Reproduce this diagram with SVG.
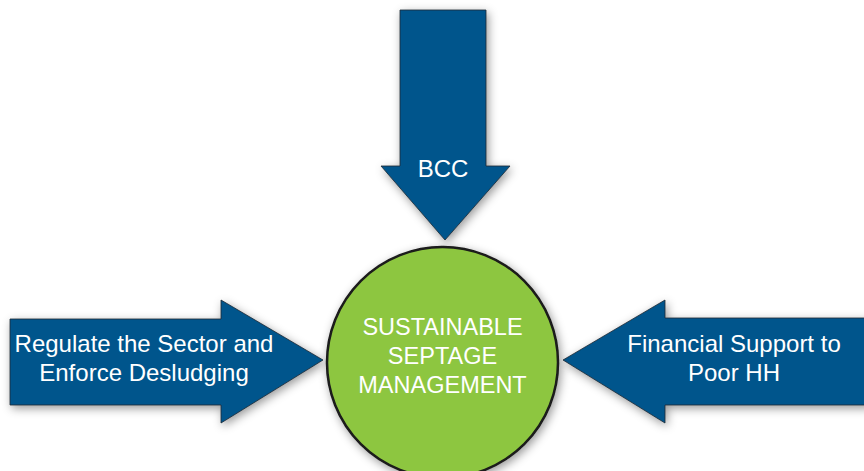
<svg xmlns="http://www.w3.org/2000/svg" width="864" height="471" viewBox="0 0 864 471">
<style>
.arrow{fill:#00558C;stroke:#1f2a33;stroke-width:0.8;filter:url(#sh)}
.lbl{font-family:"Liberation Sans",Arial,sans-serif;fill:#ffffff;text-anchor:middle}
.side{font-size:24px}
.hub{font-size:23.5px}
</style>
<defs>
<filter id="sh" x="-20%" y="-20%" width="140%" height="140%">
<feDropShadow dx="2" dy="3" stdDeviation="5" flood-color="#000" flood-opacity="0.4"/>
</filter>
</defs>
<rect width="864" height="471" fill="#ffffff"/>
<g id="connectors">
<g id="arrow-bcc">
<polygon class="arrow" points="400,10 486,10 486,166 510,166 445,240 381,166 400,166"/>
<text class="lbl" x="443" y="177" style="font-size:24px">BCC</text>
</g>
<g id="arrow-regulate">
<polygon class="arrow" points="10,319 221,319 221,300 323,360 221,423 221,405 10,405"/>
<text class="lbl side" x="144" y="352">Regulate the Sector and</text>
<text class="lbl side" x="144" y="381">Enforce Desludging</text>
</g>
<g id="arrow-financial">
<polygon class="arrow" points="870,318 665,318 665,300 563,360 665,423 665,405 870,405"/>
<text class="lbl side" x="734" y="352">Financial Support to</text>
<text class="lbl side" x="734" y="381">Poor HH</text>
</g>
</g>
<g id="hub">
<circle cx="442.5" cy="362.5" r="115.5" fill="#8DC63F" stroke="#1a1a1a" stroke-width="2.5" filter="url(#sh)"/>
<text class="lbl hub" x="442.5" y="335">SUSTAINABLE</text>
<text class="lbl hub" x="442.5" y="364">SEPTAGE</text>
<text class="lbl hub" x="442.5" y="393">MANAGEMENT</text>
</g>
</svg>
